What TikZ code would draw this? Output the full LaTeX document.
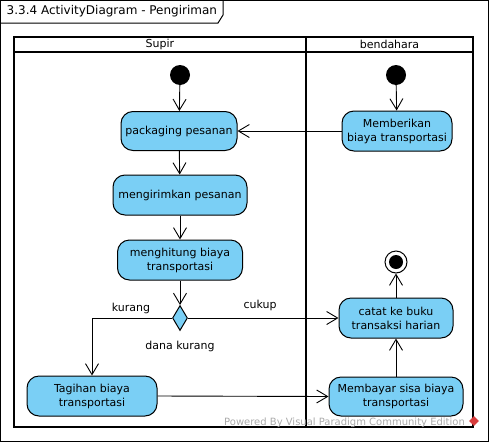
\documentclass[tikz,border=0pt]{standalone}
\usepackage{fontspec}
\setmainfont{DejaVu Sans}
\usetikzlibrary{arrows.meta,shapes.geometric}
\definecolor{actfill}{RGB}{122,207,245}
\definecolor{wmgray}{RGB}{170,170,170}
\definecolor{wmred}{RGB}{215,60,60}
\begin{document}
\begin{tikzpicture}[x=1pt,y=-1pt,
  act/.style={draw=black, fill=actfill, rounded corners=12pt, line width=1pt, align=center,
    font=\fontsize{11}{14}\selectfont, inner sep=0pt, rectangle},
  lbl/.style={font=\fontsize{11}{14}\selectfont, inner sep=0pt},
  arr/.style={draw=black, line width=0.9pt, -{Straight Barb[length=11pt,width=13pt,line width=0.9pt]}},
  initnode/.style={circle, fill=black, minimum size=20pt, inner sep=0pt},
  decnode/.style={diamond, draw=black, fill=actfill, line width=1pt, minimum width=15pt, minimum height=25pt, inner sep=0pt},
  lane/.style={draw=black, line width=2pt}]
\useasboundingbox (0,0) rectangle (489,442);
% outer frame
\draw[line width=1pt] (0.5,0.5) rectangle (488,441);
\draw[line width=1pt] (0.5,23) -- (218,23) -- (223,15) -- (223,0.5);
\node[anchor=west, font=\fontsize{12}{14}\selectfont, inner sep=0pt] (title) at (6.5,11.5) {3.3.4 ActivityDiagram - Pengiriman};
% swimlanes
\draw[lane] (14,37) rectangle (473,427);
\draw[lane] (14,52) -- (473,52);
\draw[lane] (306,37) -- (306,427);
\node[lbl] (lsupir) at (160,44.5) {Supir};
\node[lbl] (lbend) at (389.5,44.5) {bendahara};
% watermark
\node[anchor=west, font=\fontsize{10}{12}\selectfont, text=wmgray, inner sep=0pt] (wm) at (224,423) {Powered By Visual Paradigm Community Edition};
\node[diamond, fill=wmred, minimum size=10pt, inner sep=0pt] (wmlogo) at (474,421) {};
% nodes
\node[initnode] (i1) at (180,75) {};
\node[initnode] (i2) at (396,75) {};
\node[act, minimum width=116pt, minimum height=39pt] (pack) at (179,131) {packaging pesanan};
\node[act, minimum width=134pt, minimum height=40pt] (kirim) at (180,195) {mengirimkan pesanan};
\node[act, minimum width=125pt, minimum height=40pt] (hitung) at (180,260) {menghitung biaya\\transportasi};
\node[decnode] (dec) at (180,318) {};
\node[act, minimum width=130pt, minimum height=40pt] (tagih) at (92,396) {Tagihan biaya\\transportasi};
\node[act, minimum width=110pt, minimum height=40pt] (beri) at (397,131) {Memberikan\\biaya transportasi};
\node[act, minimum width=114pt, minimum height=40pt] (catat) at (396,318) {catat ke buku\\transaksi harian};
\node[act, minimum width=134pt, minimum height=39pt] (bayar) at (396,396.5) {Membayar sisa biaya\\transportasi};
\node[circle, draw=black, line width=1pt, fill=white, minimum size=22pt, inner sep=0pt] (fin) at (396,262) {};
\node[circle, fill=black, minimum size=14pt, inner sep=0pt] (fininner) at (fin) {};
% labels
\node[lbl] (lk) at (131,308) {kurang};
\node[lbl] (lc) at (260,305) {cukup};
\node[lbl] (ld) at (180,346) {dana kurang};
% connectors
\draw[arr] (i1) -- (pack);
\draw[arr] (pack) -- (kirim);
\draw[arr] (kirim) -- (hitung);
\draw[arr] (hitung) -- (dec);
\draw[arr] (dec.west) -| (tagih.north);
\draw[arr] (dec.east) -- (catat.west);
\draw[arr] (tagih.east) -- (bayar.west);
\draw[arr] (bayar) -- (catat);
\draw[arr] (catat) -- (fin);
\draw[arr] (i2) -- (beri);
\draw[arr] (beri.west) -- (pack.east);
\end{tikzpicture}
\end{document}
